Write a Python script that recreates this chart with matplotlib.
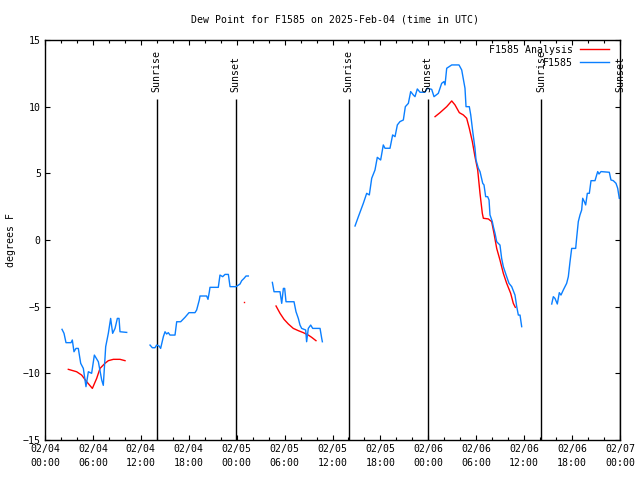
import numpy as np
import matplotlib.pyplot as plt
import matplotlib.dates as mdates
from datetime import datetime, timedelta

# hours after 2025-02-04 00:00 UTC, dew point in degrees F
obs_hours_1 = [2.13, 2.38, 2.63, 3.26, 3.42, 3.63, 3.88, 4.17, 4.47, 4.80, 5.13, 5.43, 5.84,
               6.18, 6.68, 7.10, 7.30, 7.60, 7.93, 8.22, 8.47, 8.77, 9.06, 9.27, 9.39, 10.23]
obs_dew_1 = [-6.70, -7.0, -7.70, -7.70, -7.5, -8.38, -8.13, -8.13, -9.25, -9.63, -11.0, -9.88, -10.0,
             -8.63, -9.13, -10.5, -10.9, -8.0, -7.0, -5.88, -7.0, -6.63, -5.88, -5.88, -6.88, -6.93]

obs_hours_2 = [13.15, 13.44, 13.77, 13.98, 14.28, 14.48, 14.82, 15.03, 15.23, 15.44, 15.65, 16.28,
               16.49, 16.99, 17.53, 18.03, 18.78, 18.99, 19.32, 19.41, 20.24, 20.41, 20.58, 20.66,
               21.70, 21.91, 22.25, 22.54, 22.96, 23.17, 23.92, 24.42, 24.63, 24.92, 25.17, 25.46]
obs_dew_2 = [-7.88, -8.08, -8.08, -7.88, -7.95, -8.13, -7.25, -6.88, -7.05, -6.95, -7.13, -7.13,
             -6.13, -6.13, -5.80, -5.45, -5.45, -5.25, -4.50, -4.20, -4.20, -4.45, -3.88, -3.55,
             -3.55, -2.63, -2.75, -2.58, -2.58, -3.50, -3.50, -3.30, -3.05, -2.88, -2.70, -2.70]

obs_hours_3 = [28.47, 28.68, 29.43, 29.64, 29.85, 30.01, 30.18, 31.18, 31.43, 31.72, 31.93, 32.14,
               32.64, 32.76, 32.97, 33.27, 33.52, 34.44, 34.65, 34.73]
obs_dew_3 = [-3.18, -3.88, -3.88, -4.75, -3.63, -3.63, -4.63, -4.63, -5.38, -5.88, -6.38, -6.63,
             -6.75, -7.63, -6.63, -6.38, -6.63, -6.63, -7.38, -7.63]

obs_hours_4 = [38.82, 39.24, 39.86, 40.28, 40.61, 40.91, 41.32, 41.61, 42.03, 42.36, 42.57, 43.20,
               43.53, 43.83, 44.12, 44.45, 44.87, 45.12, 45.50, 45.79, 46.12, 46.33, 46.62, 46.96,
               47.58, 47.88, 48.42, 48.71, 49.25, 49.67, 49.96, 50.09, 50.30, 50.93, 51.84, 52.18,
               52.59, 52.72, 53.13, 53.31, 53.56, 53.84, 53.97, 54.26, 54.47, 54.81, 54.97, 55.18,
               55.43, 55.60, 55.72, 56.01, 56.14, 56.35, 56.56, 56.97, 57.18, 57.39, 57.81, 58.10,
               58.44, 58.85, 59.07, 59.27, 59.48, 59.69]
obs_dew_4 = [1.05, 1.75, 2.75, 3.50, 3.38, 4.63, 5.25, 6.20, 6.0, 7.13, 6.88, 6.88,
             7.88, 7.75, 8.63, 8.88, 9.0, 10.0, 10.25, 11.13, 10.88, 10.75, 11.33, 11.08,
             11.08, 11.38, 11.30, 10.75, 11.0, 11.75, 11.88, 11.63, 12.88, 13.13, 13.13, 12.75,
             11.38, 10.0, 10.0, 9.38, 8.13, 6.88, 6.0, 5.38, 5.13, 4.25, 4.13, 3.25,
             3.25, 3.0, 1.88, 1.38, 1.0, 0.50, -0.13, -0.38, -1.38, -2.0, -2.75, -3.25,
             -3.50, -4.13, -5.0, -5.63, -5.63, -6.50]

obs_hours_5 = [63.45, 63.65, 63.86, 64.15, 64.40, 64.61, 64.90, 65.32, 65.53, 65.74, 65.95, 66.45,
               66.58, 66.78, 66.99, 67.20, 67.33, 67.53, 67.70, 67.91, 68.16, 68.37, 68.87, 69.08,
               69.21, 69.37, 69.62, 70.66, 70.87, 71.16, 71.50, 71.71, 71.91]
obs_dew_5 = [-4.80, -4.25, -4.38, -4.80, -3.95, -4.13, -3.75, -3.25, -2.75, -1.63, -0.63, -0.63,
             0.20, 1.38, 1.88, 2.25, 3.13, 2.88, 2.63, 3.50, 3.50, 4.45, 4.45, 4.88,
             5.13, 4.95, 5.13, 5.08, 4.50, 4.45, 4.25, 3.88, 3.13]

ana_hours_1 = [2.92, 3.96, 4.59, 5.22, 5.93, 6.47, 6.89, 7.51, 7.93, 8.56, 9.39, 10.02]
ana_dew_1 = [-9.70, -9.88, -10.13, -10.63, -11.13, -10.38, -9.63, -9.25, -9.05, -8.95, -8.95, -9.05]

ana_hours_2 = [24.96]
ana_dew_2 = [-4.68]

ana_hours_3 = [28.93, 29.43, 29.93, 30.47, 31.09, 31.72, 32.35, 32.97, 33.39, 33.93]
ana_dew_3 = [-4.95, -5.50, -5.95, -6.30, -6.63, -6.80, -6.95, -7.13, -7.30, -7.55]

ana_hours_4 = [48.84, 49.46, 50.30, 50.93, 51.34, 51.88, 52.38, 52.80, 53.13, 53.51, 53.84, 54.18,
               54.47, 54.76, 54.89, 55.51, 55.93, 56.22, 56.56, 56.97, 57.39, 57.81, 58.31, 58.64,
               58.89]
ana_dew_4 = [9.25, 9.55, 10.0, 10.43, 10.13, 9.55, 9.38, 9.13, 8.38, 7.38, 6.25, 5.25,
             3.50, 2.0, 1.63, 1.58, 1.38, 0.50, -0.63, -1.50, -2.50, -3.25, -4.0, -4.75,
             -5.05]

sun_hours = [14.0, 23.9, 38.05, 47.9, 62.1, 72.0]
sun_labels = ['Sunrise', 'Sunset', 'Sunrise', 'Sunset', 'Sunrise', 'Sunset']

start = datetime(2025, 2, 4)


def to_time(hours):
    return [start + timedelta(hours=h) for h in hours]


plt.rcParams['font.family'] = 'DejaVu Sans Mono'
plt.rcParams['font.size'] = 7.1

fig = plt.figure(figsize=(6.4, 4.8), dpi=100)
ax = fig.add_axes([45 / 640, 40 / 480, 575 / 640, 400 / 480])

blue = '#0a7fff'
red = '#ff0000'

# analysis (red)
ana = [(ana_hours_1, ana_dew_1), (ana_hours_2, ana_dew_2),
       (ana_hours_3, ana_dew_3), (ana_hours_4, ana_dew_4)]
for i, (h, d) in enumerate(ana):
    if len(h) == 1:
        ax.plot(to_time(h), d, color=red, marker='s', ms=1.0, mew=0, ls='none')
    else:
        ax.plot(to_time(h), d, color=red, lw=1.0,
                label='F1585 Analysis' if i == 0 else None)

# observations (blue)
obs = [(obs_hours_1, obs_dew_1), (obs_hours_2, obs_dew_2), (obs_hours_3, obs_dew_3),
       (obs_hours_4, obs_dew_4), (obs_hours_5, obs_dew_5)]
for i, (h, d) in enumerate(obs):
    ax.plot(to_time(h), d, color=blue, lw=1.0,
            label='F1585' if i == 0 else None)

# sunrise / sunset markers
for h, lab in zip(sun_hours, sun_labels):
    t = start + timedelta(hours=h)
    ax.vlines(t, -15, 10.6, color='black', lw=1.0, zorder=1)
    ax.text(t, 11.1, lab, rotation=90, ha='center', va='bottom', clip_on=False)

ax.set_xlim(start, start + timedelta(hours=72))
ax.set_ylim(-15, 15)
ax.set_yticks([-15, -10, -5, 0, 5, 10, 15])

ax.xaxis.set_major_locator(mdates.HourLocator(byhour=[0, 6, 12, 18]))
ax.xaxis.set_minor_locator(mdates.HourLocator(byhour=range(0, 24, 2)))
ax.xaxis.set_major_formatter(mdates.DateFormatter('%m/%d\n%H:%M'))

ax.tick_params(which='both', direction='in', top=True, right=True, width=0.8)
ax.tick_params(which='major', length=3.5, pad=3)
ax.tick_params(which='minor', length=2)
for lbl in ax.get_xticklabels():
    lbl.set_linespacing(1.5)

for s in ax.spines.values():
    s.set_linewidth(1.0)

leg = ax.legend(loc='upper right', bbox_to_anchor=(1 - 4 / 575, 1 + 2 / 400), frameon=False,
                markerfirst=False, handlelength=3.0, handletextpad=0.7,
                labelspacing=0.3, borderaxespad=0.3)

fig.text(335 / 640, 1 - 20 / 480, 'Dew Point for F1585 on 2025-Feb-04 (time in UTC)',
         ha='center', va='center')
fig.text(11 / 640, 0.5, 'degrees F', rotation=90, ha='center', va='center')

fig.savefig('out.png', dpi=100)
